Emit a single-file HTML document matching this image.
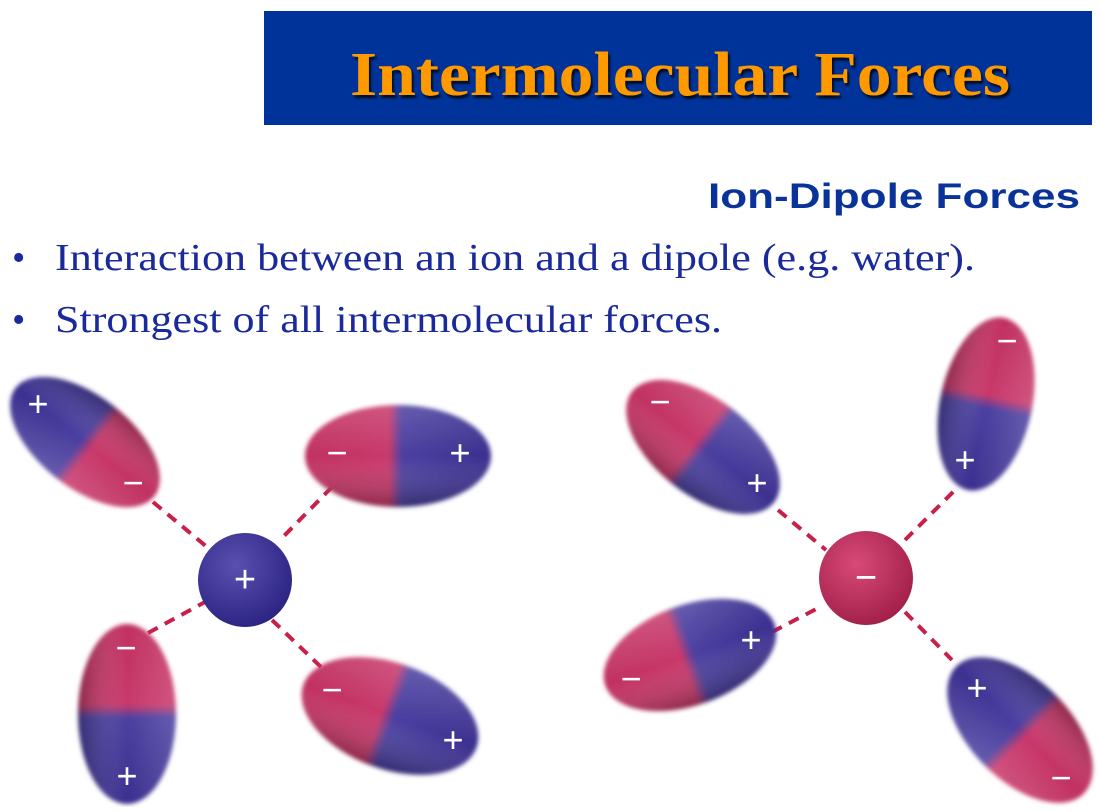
<!DOCTYPE html>
<html><head><meta charset="utf-8">
<style>
html,body{margin:0;padding:0;background:#fff;}
body{width:1099px;height:807px;overflow:hidden;position:relative;}
</style></head>
<body>
<svg id="s" width="1099" height="807" viewBox="0 0 1099 807" xmlns="http://www.w3.org/2000/svg">
<defs>
  <filter id="soft" x="-20%" y="-20%" width="140%" height="140%"><feGaussianBlur stdDeviation="2.2"/></filter>
  <filter id="shadow" x="-5%" y="-5%" width="110%" height="120%"><feDropShadow dx="2" dy="3" stdDeviation="1" flood-color="#000" flood-opacity="0.8"/></filter>
  <linearGradient id="dipole" x1="0" y1="0" x2="1" y2="0">
    <stop offset="0" stop-color="#c03060"/><stop offset="0.45" stop-color="#c8386a"/>
    <stop offset="0.52" stop-color="#4a3fa0"/><stop offset="1" stop-color="#3a2e8e"/>
  </linearGradient>
  <linearGradient id="shade" x1="0" y1="0" x2="0" y2="1">
    <stop offset="0" stop-color="#fff" stop-opacity="0.15"/><stop offset="0.5" stop-color="#fff" stop-opacity="0"/><stop offset="1" stop-color="#000" stop-opacity="0.3"/>
  </linearGradient>
  <radialGradient id="blueIon" cx="0.4" cy="0.35" r="0.7">
    <stop offset="0" stop-color="#5a50b0"/><stop offset="1" stop-color="#2a2280"/>
  </radialGradient>
  <radialGradient id="redIon" cx="0.4" cy="0.35" r="0.7">
    <stop offset="0" stop-color="#d84a78"/><stop offset="1" stop-color="#a01e48"/>
  </radialGradient>
</defs>

<rect x="264" y="11" width="828" height="114" fill="#003399"/>
<text x="680" y="95" text-anchor="middle" font-family="'Liberation Serif',serif" font-weight="bold" font-size="62" fill="#ff9900" textLength="660" lengthAdjust="spacingAndGlyphs" filter="url(#shadow)">Intermolecular Forces</text>

<text x="1080" y="208" text-anchor="end" font-family="'Liberation Sans',sans-serif" font-weight="bold" font-size="35" fill="#0a3399" textLength="372" lengthAdjust="spacingAndGlyphs">Ion-Dipole Forces</text>

<g font-family="'Liberation Serif',serif" font-size="38" fill="#1a2a9a">
  <text x="12" y="270">•</text>
  <text x="55" y="270" textLength="920" lengthAdjust="spacingAndGlyphs">Interaction between an ion and a dipole (e.g. water).</text>
  <text x="12" y="332">•</text>
  <text x="55" y="332" textLength="667" lengthAdjust="spacingAndGlyphs">Strongest of all intermolecular forces.</text>
</g>
<g id="mol"></g>
</svg>
<script>
// dipoles: cx, cy, rx, ry, angle (deg), red side first along +x after rotation
const dipoles=[
  [85,442,88,46,218,'cation-dipole-top-left'],
  [398,456,93,51,0,'cation-dipole-top-right'],
  [127,714,49,90,0,'cation-dipole-bottom-left',true],
  [390,716,92,53,20,'cation-dipole-bottom-right'],
  [703,447,90,48,38,'anion-dipole-top-left'],
  [986,404,46,88,12,'anion-dipole-top-right',true],
  [690,655,90,50,-20,'anion-dipole-bottom-left'],
  [1020,730,90,50,225,'anion-dipole-bottom-right']
];
const dashes=[[153,502,207,547],[332,487,283,537],[148,633,205,602],[272,620,322,668],
  [778,510,826,550],[905,540,955,490],[772,632,822,606],[905,612,952,660]];
const signs=[['+',38,404],['−',133,483],['−',337,453],['+',460,453],['−',126,648],['+',127,776],['−',332,690],['+',453,740],
  ['−',660,402],['+',757,483],['−',1007,341],['+',965,460],['−',631,679],['+',751,640],['+',977,688],['−',1061,778]];
const ions=[[245,580,'url(#blueIon)','+','cation'],[866,578,'url(#redIon)','−','anion']];
const ns='http://www.w3.org/2000/svg', g=document.getElementById('mol');
function mk(t,a,p){const e=document.createElementNS(ns,t);for(const k in a)e.setAttribute(k,a[k]);(p||g).appendChild(e);return e;}
dashes.forEach(d=>{const l=mk('line',{x1:d[0],y1:d[1],x2:d[2],y2:d[3],stroke:'#c8204a','stroke-width':4,'stroke-dasharray':'11 8'});

});
dipoles.forEach(d=>{
  let [cx,cy,rx,ry,a,name,vert]=d;
  if(vert){[rx,ry]=[ry,rx];a=a+90;}
  const outer=mk('g',{filter:'url(#soft)'});
  const gr=mk('g',{transform:`translate(${cx},${cy}) rotate(${a})`},outer);
  
  
  mk('ellipse',{cx:0,cy:0,rx:rx,ry:ry,fill:'url(#dipole)'},gr);
  mk('ellipse',{cx:0,cy:0,rx:rx,ry:ry,fill:'url(#shade)'},gr);
});
ions.forEach(i=>{const c=mk('circle',{cx:i[0],cy:i[1],r:47,fill:i[2]});


const t=mk('text',{x:i[0],y:i[1]+12,'text-anchor':'middle','font-family':"'Liberation Sans',sans-serif",'font-size':38,fill:'#fff'});t.textContent=i[3];

});
signs.forEach(s=>{const t=mk('text',{x:s[1],y:s[2]+12,'text-anchor':'middle','font-family':"'Liberation Sans',sans-serif",'font-size':36,fill:'#fff'});t.textContent=s[0];

});
</script>
</body></html>
